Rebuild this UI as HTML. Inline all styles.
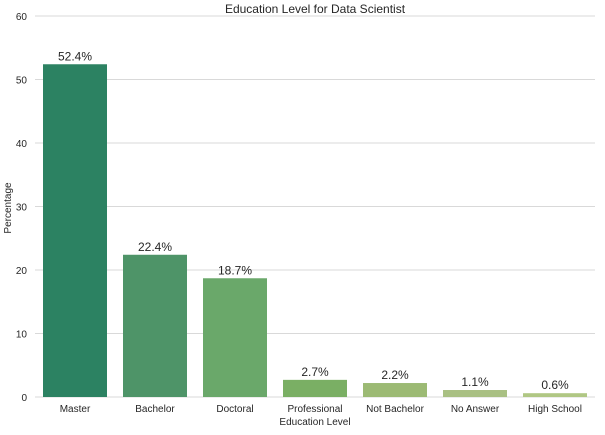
<!DOCTYPE html>
<html><head><meta charset="utf-8"><style>
body{margin:0;background:#fff;font-family:"Liberation Sans",sans-serif;}
svg text{font-family:"Liberation Sans",sans-serif;}
</style></head><body>
<svg id="chart" width="605" height="430" xmlns="http://www.w3.org/2000/svg">
<text x="315" y="13" text-anchor="middle" font-size="12" fill="#262626">Education Level for Data Scientist</text>
<text transform="translate(11,208) rotate(-90)" text-anchor="middle" font-size="10" fill="#262626">Percentage</text>
<text x="315" y="425" text-anchor="middle" font-size="10" fill="#262626">Education Level</text>
<g id="grid"></g><g id="bars"></g><g id="labels"></g>
</svg>
<script>
const categories=["Master","Bachelor","Doctoral","Professional","Not Bachelor","No Answer","High School"];
const values=[52.4,22.4,18.7,2.7,2.2,1.1,0.6];
const valueLabels=["52.4%","22.4%","18.7%","2.7%","2.2%","1.1%","0.6%"];
const yTicks=[0,10,20,30,40,50,60];
const colors=["#2c8262","#4e9468","#6aa86a","#7aaf64","#9cba74","#a9c083","#b0c784"];
const NS="http://www.w3.org/2000/svg";
const left=35,right=595,y0=397,yTop=16;
const y=v=>y0-(v/60)*(y0-yTop);
const band=(right-left)/categories.length;
const x=i=>left+band*i+band/2;
function mk(t,a,p,txt){const e=document.createElementNS(NS,t);for(const k in a)e.setAttribute(k,a[k]);if(txt!==undefined)e.textContent=txt;p.appendChild(e);return e;}
const grid=document.getElementById('grid'),bars=document.getElementById('bars'),labels=document.getElementById('labels');
yTicks.forEach(t=>{
  const l=mk('line',{x1:left,x2:right,y1:y(t),y2:y(t),stroke:'#d9d9d9','stroke-width':1},grid);
  
  
  const tx=mk('text',{x:left-8,y:y(t)+4,'text-anchor':'end','font-size':10,fill:'#262626'},grid,String(t));
  
  
});
categories.forEach((c,i)=>{
  const w=band*0.8;
  const r=mk('rect',{x:x(i)-w/2,y:y(values[i]),width:w,height:y0-y(values[i]),fill:colors[i]},bars);
  
  
  const v=mk('text',{x:x(i),y:y(values[i])-4,'text-anchor':'middle','font-size':12,fill:'#262626'},labels,valueLabels[i]);
  
  
  const t=mk('text',{x:x(i),y:412,'text-anchor':'middle','font-size':10,fill:'#262626'},labels,c);
  
  
});
</script>
</body></html>
